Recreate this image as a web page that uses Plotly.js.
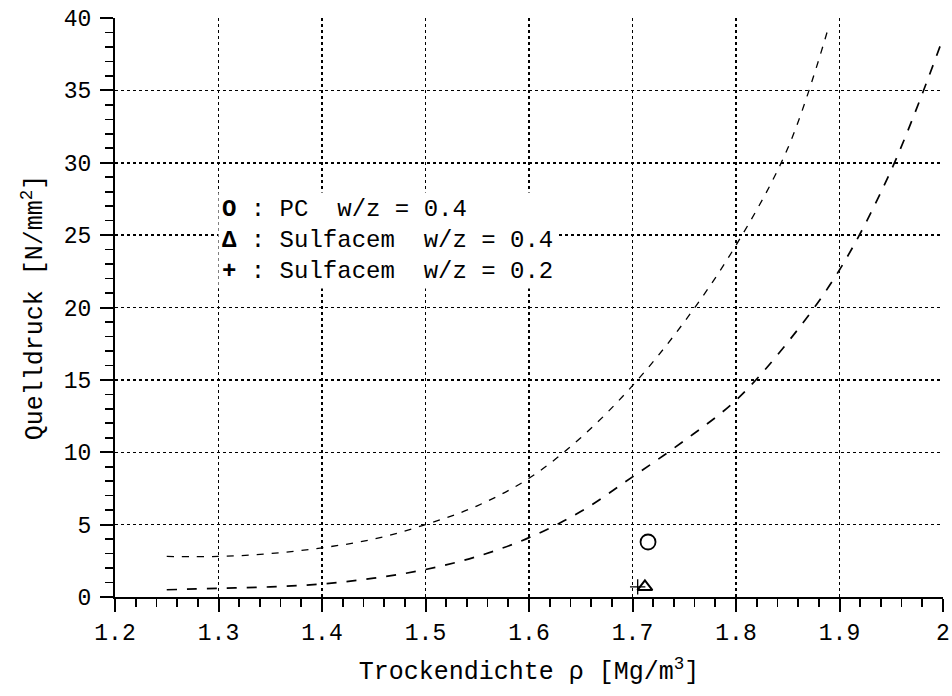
<!DOCTYPE html>
<html><head><meta charset="utf-8">
<script src="https://cdn.plot.ly/plotly-3.0.1.min.js"></script>
<style>html,body{margin:0;padding:0;background:#fff}</style>
</head><body><div id="chart" style="width:952px;height:696px"></div>
<script>
// Upper curve (fine dashes)
const upperX = [1.25,1.3,1.35,1.4,1.45,1.5,1.55,1.6,1.65,1.7,1.75,1.8,1.85,1.89];
const upperY = [2.8,2.8,3.0,3.4,4.0,5.0,6.3,8.2,11.0,14.6,19.0,24.3,31.0,39.5];
// Lower curve (long dashes)
const lowerX = [1.25,1.3,1.35,1.4,1.45,1.5,1.55,1.6,1.65,1.7,1.75,1.8,1.85,1.9,1.95,2.0];
const lowerY = [0.5,0.6,0.7,0.9,1.3,1.9,2.8,4.1,5.9,8.3,10.8,13.6,17.6,22.6,29.5,38.6];
// Measured points
const pcX = [1.715], pcY = [3.8];
const sulf4X = [1.712], sulf4Y = [0.7];
const sulf2X = [1.705], sulf2Y = [0.7];
const legendLines = ["<b>O</b> : PC  w/z = 0.4", "<b>Δ</b> : Sulfacem  w/z = 0.4", "<b>+</b> : Sulfacem  w/z = 0.2"];
const xTickVals = [1.2,1.3,1.4,1.5,1.6,1.7,1.8,1.9,2.0];
const xTickText = ['1.2','1.3','1.4','1.5','1.6','1.7','1.8','1.9','2'];

const F = "Liberation Mono, Courier New, monospace";
const traces = [
  {x: upperX, y: upperY, mode: 'lines', line: {color: '#000', width: 1.3, dash: '7px,8px', shape: 'spline', smoothing: 1}, hoverinfo: 'skip'},
  {x: lowerX, y: lowerY, mode: 'lines', line: {color: '#000', width: 1.7, dash: '10px,10px', shape: 'spline', smoothing: 1}, hoverinfo: 'skip'},
  {x: pcX, y: pcY, mode: 'markers', marker: {symbol: 'circle-open', size: 15, color: '#000', line: {width: 1.8}}},
  {x: sulf4X, y: sulf4Y, mode: 'markers', marker: {symbol: 'triangle-up-open', size: 13, color: '#000', line: {width: 2}}},
  {x: sulf2X, y: sulf2Y, mode: 'markers', marker: {symbol: 'cross-thin-open', size: 11, color: '#000', line: {width: 1.3}}}
];
const axisCommon = {
  showline: true, linecolor: '#000', linewidth: 2,
  ticks: 'outside', ticklen: 13, tickwidth: 2, tickcolor: '#000',
  showgrid: true, gridcolor: '#000', gridwidth: 1.5, griddash: 'dot',
  zeroline: false, tickfont: {family: F, size: 23, color: '#000'}
};
const layout = {
  width: 952, height: 696, showlegend: false,
  paper_bgcolor: '#fff', plot_bgcolor: '#fff',
  margin: {l: 115, r: 9, t: 18, b: 99},
  xaxis: Object.assign({}, axisCommon, {
    range: [1.2, 2.0],
    tickvals: xTickVals, ticktext: xTickText,
    minor: {dtick: 0.02, tick0: 1.2, ticks: 'outside', ticklen: 8, tickwidth: 1.6, tickcolor: '#000', showgrid: false},
    title: {text: 'Trockendichte ρ [Mg/m<sup>3</sup>]', font: {family: F, size: 25, color: '#000'}, standoff: 16}
  }),
  yaxis: Object.assign({}, axisCommon, {
    range: [0, 40], dtick: 5, tick0: 0, ticklabelstandoff: 4,
    minor: {dtick: 1, tick0: 0, ticks: 'outside', ticklen: 8, tickwidth: 1.6, tickcolor: '#000', showgrid: false},
    title: {text: 'Quelldruck [N/mm<sup>2</sup>]', font: {family: F, size: 25, color: '#000'}, standoff: 14}
  }),
  annotations: [{
    xref: 'paper', yref: 'paper', x: 0.124, y: 0.70,
    xanchor: 'left', yanchor: 'top', align: 'left', showarrow: false,
    text: legendLines.join('<br>'), bgcolor: '#fff', borderpad: 3,
    font: {family: F, size: 24, color: '#000'}
  }]
};
Plotly.newPlot('chart', traces, layout, {displayModeBar: false, staticPlot: true});
</script></body></html>
